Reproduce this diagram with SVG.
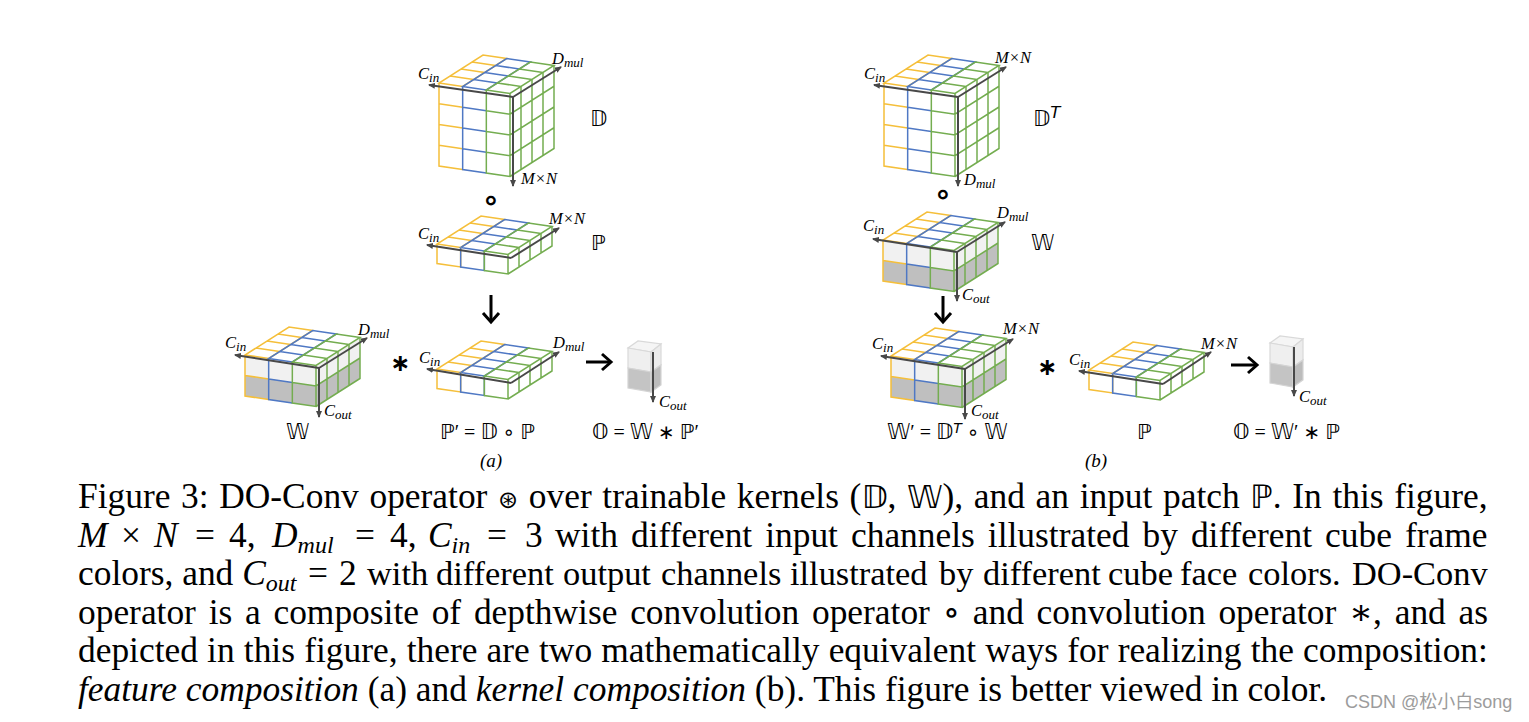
<svg xmlns="http://www.w3.org/2000/svg" xmlns:xlink="http://www.w3.org/1999/xlink" width="1529" height="722" viewBox="0 0 1529 722">
<style>
.y{fill:none;stroke:#f5bf3a;stroke-width:1.5}
.b{fill:none;stroke:#4f78c4;stroke-width:1.5}
.g{fill:none;stroke:#74ad50;stroke-width:1.5}
.lt{fill:#f1f1f1;stroke:none}
.dk{fill:#bfbfbf;stroke:none}
.ax{fill:none;stroke:#484848;stroke-width:2;marker-end:url(#tip)}
.big{fill:none;stroke:#000;stroke-width:3;marker-end:url(#open)}
text{font-family:"Liberation Serif","DejaVu Serif",serif;fill:#000}
.m{font-style:italic;font-size:16.5px}
.s{font-size:13px}
.t{font-style:italic;font-size:14px}
.bb{font-family:"DejaVu Sans","Noto Sans",sans-serif;font-size:21px}
.f{font-family:"Liberation Serif","DejaVu Sans",serif;font-size:20px}
.c{font-size:35.4px}
.n{font-size:34.4px}
.i{font-style:italic}
.cs{font-size:24px;font-style:italic}
.cb{font-family:"DejaVu Sans",sans-serif;font-size:32px}
.ds{font-family:"DejaVu Sans",sans-serif;font-size:24px}
.ring{font-family:"DejaVu Sans",sans-serif;font-size:30px;font-weight:bold}
.wm{font-family:"Liberation Sans","Noto Sans CJK SC",sans-serif;font-size:18px;fill:#9c9c9c}
</style>
<defs>
<marker id="tip" markerWidth="8" markerHeight="7" refX="6" refY="3" orient="auto" markerUnits="userSpaceOnUse"><path d="M0 0L7 3L0 6Z" fill="#484848"/></marker>
<marker id="open" markerWidth="16" markerHeight="20" refX="12" refY="10" orient="auto" markerUnits="userSpaceOnUse"><path d="M3 2L12 10L3 18" fill="none" stroke="#000" stroke-width="3"/></marker>
<g id="top">
<path class="y" d="M0 0L23.67 3.5L67.67-24.5L44-28ZM11-7L34.67-3.5M22-14L45.67-10.5M33-21L56.67-17.5"/>
<path class="b" d="M23.67 3.5L47.33 7L91.33-21L67.67-24.5ZM34.67-3.5L58.33 0M45.67-10.5L69.33-7M56.67-17.5L80.33-14"/>
<path class="g" d="M47.33 7L71 10.5L115-17.5L91.33-21ZM58.33 0L82 3.5M69.33-7L93-3.5M80.33-14L104-10.5"/>
</g>
<g id="cubeP">
<use href="#top"/>
<path class="y" d="M0 0V19.5L23.67 23V3.5"/>
<path class="b" d="M23.67 3.5V23L47.33 26.5V7"/>
<path class="g" d="M47.33 7V26.5L71 30V10.5M71 30L115 2V-17.5M82 3.5V23M93-3.5V16M104-10.5V9"/>
</g>
<g id="cubeW">
<path class="lt" d="M0 0L71 10.5L115-17.5V3L71 31L0 20.5Z"/>
<path class="dk" d="M0 20.5L71 31L115 3V23.5L71 51.5L0 41Z"/>
<use href="#top"/>
<path class="y" d="M0 0V41L23.67 44.5M0 20.5L23.67 24"/>
<path class="b" d="M23.67 3.5V44.5L47.33 48M23.67 24L47.33 27.5"/>
<path class="g" d="M47.33 7V48L71 51.5V10.5M47.33 27.5L71 31L115 3M71 51.5L115 23.5V-17.5M82 3.5V44.5M93-3.5V37.5M104-10.5V30.5"/>
</g>
<g id="cubeD">
<use href="#top"/>
<path class="y" d="M0 0V83L23.67 86.5M0 20.75L23.67 24.25M0 41.5L23.67 45M0 62.25L23.67 65.75"/>
<path class="b" d="M23.67 3.5V86.5L47.33 90M23.67 24.25L47.33 27.75M23.67 45L47.33 48.5M23.67 65.75L47.33 69.25"/>
<path class="g" d="M47.33 7V90L71 93.5V10.5M47.33 27.75L71 31.25L115 3.25M47.33 48.5L71 52L115 24M47.33 69.25L71 72.75L115 44.75M71 93.5L115 65.5V-17.5M82 3.5V86.5M93-3.5V79.5M104-10.5V72.5"/>
</g>
<g id="cubeO">
<path fill="#f5f5f5" stroke="#d9d9d9" stroke-width="1.2" d="M0 0L23 4L33-4L10-7Z"/>
<path fill="#efefef" stroke="#d9d9d9" stroke-width="1.2" d="M0 0L23 4V24L0 20Z"/>
<path fill="#ececec" stroke="#d9d9d9" stroke-width="1.2" d="M23 4L33-4V17L23 24Z"/>
<path fill="#c4c4c4" stroke="#d4d4d4" stroke-width="1.2" d="M0 20L23 24V44L0 40Z"/>
<path fill="#bcbcbc" stroke="#d4d4d4" stroke-width="1.2" d="M23 24L33 17V37L23 44Z"/>
</g>
</defs>
<rect width="1529" height="722" fill="#fff"/>

<g id="D-a"><use href="#cubeD" x="439" y="83"/>
<text class="m" x="418" y="79">C<tspan class="s" dy="3">in</tspan></text>
<text class="m" x="552" y="64">D<tspan class="s" dy="3">mul</tspan></text>
<text class="m" x="521" y="184">M×N</text>
<text class="bb" x="590" y="126">𝔻</text></g>

<g id="op-compose-a"><text class="ring" x="491" y="210" text-anchor="middle">∘</text></g>

<g id="P-a"><use href="#cubeP" x="437" y="244"/>
<text class="m" x="418" y="239">C<tspan class="s" dy="3">in</tspan></text>
<text class="m" x="549" y="224">M×N</text>
<text class="bb" x="591" y="250">ℙ</text></g>

<g id="W-a"><use href="#cubeW" x="245" y="355"/>
<text class="m" x="225" y="348">C<tspan class="s" dy="3">in</tspan></text>
<text class="m" x="358" y="335">D<tspan class="s" dy="3">mul</tspan></text>
<text class="m" x="324" y="416">C<tspan class="s" dy="3">out</tspan></text>
<text class="bb" x="286" y="439">𝕎</text></g>

<g id="op-conv-a"><text class="ds" x="400" y="371" text-anchor="middle" font-weight="bold">∗</text></g>

<g id="Pp-a"><use href="#cubeP" x="437" y="369"/>
<text class="m" x="419" y="363">C<tspan class="s" dy="3">in</tspan></text>
<text class="m" x="553" y="348">D<tspan class="s" dy="3">mul</tspan></text>
<text class="bb" x="440" y="439">ℙ<tspan class="f">′ = </tspan>𝔻<tspan class="f"> ∘ </tspan>ℙ</text></g>

<g id="O-a"><use href="#cubeO" x="628" y="348"/>
<text class="m" x="659" y="407">C<tspan class="s" dy="3">out</tspan></text>
<text class="bb" x="592" y="439">𝕆<tspan class="f"> = </tspan>𝕎<tspan class="f"> ∗ </tspan>ℙ<tspan class="f">′</tspan></text></g>

<g id="label-a"><text x="491" y="467" text-anchor="middle" font-size="19" font-style="italic">(a)</text></g>

<g id="D-b"><use href="#cubeD" x="884" y="83"/>
<text class="m" x="864" y="79">C<tspan class="s" dy="3">in</tspan></text>
<text class="m" x="995" y="63">M×N</text>
<text class="m" x="964" y="185">D<tspan class="s" dy="3">mul</tspan></text>
<text class="bb" x="1033" y="126">𝔻<tspan class="m" dy="-8">T</tspan></text></g>

<g id="op-compose-b"><text class="ring" x="943" y="204" text-anchor="middle">∘</text></g>

<g id="W-b"><use href="#cubeW" x="883" y="240"/>
<text class="m" x="863" y="231">C<tspan class="s" dy="3">in</tspan></text>
<text class="m" x="997" y="218">D<tspan class="s" dy="3">mul</tspan></text>
<text class="m" x="962" y="300">C<tspan class="s" dy="3">out</tspan></text>
<text class="bb" x="1031" y="250">𝕎</text></g>

<g id="Wp-b"><use href="#cubeW" x="891" y="356"/>
<text class="m" x="872" y="349">C<tspan class="s" dy="3">in</tspan></text>
<text class="m" x="1003" y="334">M×N</text>
<text class="m" x="971" y="416">C<tspan class="s" dy="3">out</tspan></text>
<text class="bb" x="887" y="439">𝕎<tspan class="f">′ = </tspan>𝔻<tspan class="t" dy="-6">T</tspan><tspan class="f" dy="6"> ∘ </tspan>𝕎</text></g>

<g id="op-conv-b"><text class="ds" x="1047" y="375" text-anchor="middle" font-weight="bold">∗</text></g>

<g id="P-b"><use href="#cubeP" x="1089" y="370"/>
<text class="m" x="1069" y="365">C<tspan class="s" dy="3">in</tspan></text>
<text class="m" x="1201" y="349">M×N</text>
<text class="bb" x="1137" y="439">ℙ</text></g>

<g id="O-b"><use href="#cubeO" x="1270" y="343"/>
<text class="m" x="1299" y="402">C<tspan class="s" dy="3">out</tspan></text>
<text class="bb" x="1233" y="439">𝕆<tspan class="f"> = </tspan>𝕎<tspan class="f">′ ∗ </tspan>ℙ</text></g>

<g id="label-b"><text x="1096" y="467" text-anchor="middle" font-size="19" font-style="italic">(b)</text></g>

<g id="connectors">
<path class="ax" d="M513 97L429 85"/>
<path class="ax" d="M513 97L561 67"/>
<path class="ax" d="M513 97V186"/>
<path class="ax" d="M511 258L427 245"/>
<path class="ax" d="M511 258L559 228"/>
<path class="ax" d="M319 368L235 355"/>
<path class="ax" d="M319 368L367 338"/>
<path class="ax" d="M319 368V417"/>
<path class="ax" d="M511 383L427 369"/>
<path class="ax" d="M511 383L559 352"/>
<path class="ax" d="M653 352V402"/>
<path class="ax" d="M958 97L874 85"/>
<path class="ax" d="M958 97L1006 67"/>
<path class="ax" d="M958 97V186"/>
<path class="ax" d="M957 252L873 239"/>
<path class="ax" d="M957 252L1005 222"/>
<path class="ax" d="M957 252V301"/>
<path class="ax" d="M965 369L881 356"/>
<path class="ax" d="M965 369L1013 339"/>
<path class="ax" d="M965 369V419"/>
<path class="ax" d="M1163 384L1079 371"/>
<path class="ax" d="M1163 384L1211 352"/>
<path class="ax" d="M1294 347V396"/>
<path class="big" d="M491 295V322"/>
<path class="big" d="M943 296V322"/>
<path class="big" d="M586 362H611"/>
<path class="big" d="M1231 365H1257"/>
</g>

<g id="caption">
<text class="c" x="78" y="508" word-spacing="1.8">Figure 3: DO-Conv operator <tspan class="ds">⊛</tspan> over trainable kernels (<tspan class="cb">𝔻</tspan>, <tspan class="cb">𝕎</tspan>), and an input patch <tspan class="cb">ℙ</tspan>. In this figure,</text>
<text class="c" x="78" y="547"><tspan class="i">M</tspan> <tspan x="121">×</tspan> <tspan class="i" x="154">N</tspan> <tspan x="195">=</tspan> <tspan x="229">4,</tspan> <tspan class="i" x="272">D</tspan><tspan class="cs" dy="6">mul</tspan> <tspan x="355" dy="-6">=</tspan> <tspan x="390">4,</tspan> <tspan class="i" x="428">C</tspan><tspan class="cs" dy="6">in</tspan> <tspan x="487" dy="-6">=</tspan> <tspan x="525">3</tspan> <tspan x="555" word-spacing="4.2">with different input channels illustrated by different cube frame</tspan></text>
<text class="c" x="78" y="585">colors, and <tspan class="i">C</tspan><tspan class="cs" dy="6">out</tspan> <tspan x="308" dy="-6">=</tspan> <tspan x="339">2</tspan> <tspan class="n" x="367">with</tspan> <tspan class="n" x="436">different</tspan> <tspan class="n" x="563">output</tspan> <tspan class="n" x="661">channels</tspan> <tspan class="n" x="790">illustrated</tspan> <tspan class="n" x="939">by</tspan> <tspan class="n" x="983">different</tspan> <tspan class="n" x="1108">cube</tspan> <tspan class="n" x="1180">face</tspan> <tspan class="n" x="1248">colors.</tspan> <tspan class="n" x="1352">DO-Conv</tspan></text>
<text class="c" x="78" y="624" word-spacing="3.9">operator is a composite of depthwise convolution operator ∘ and convolution operator ∗, and as</text>
<text class="c" x="78" y="662" word-spacing="0.35">depicted in this figure, there are two mathematically equivalent ways for realizing the composition:</text>
<text class="c" x="78" y="701"><tspan class="i">feature composition</tspan> (a) and <tspan class="i">kernel composition</tspan> (b). This figure is better viewed in color.</text>
</g>
<g id="watermark"><text class="wm" x="1345" y="708">CSDN @松小白song</text></g>
</svg>
